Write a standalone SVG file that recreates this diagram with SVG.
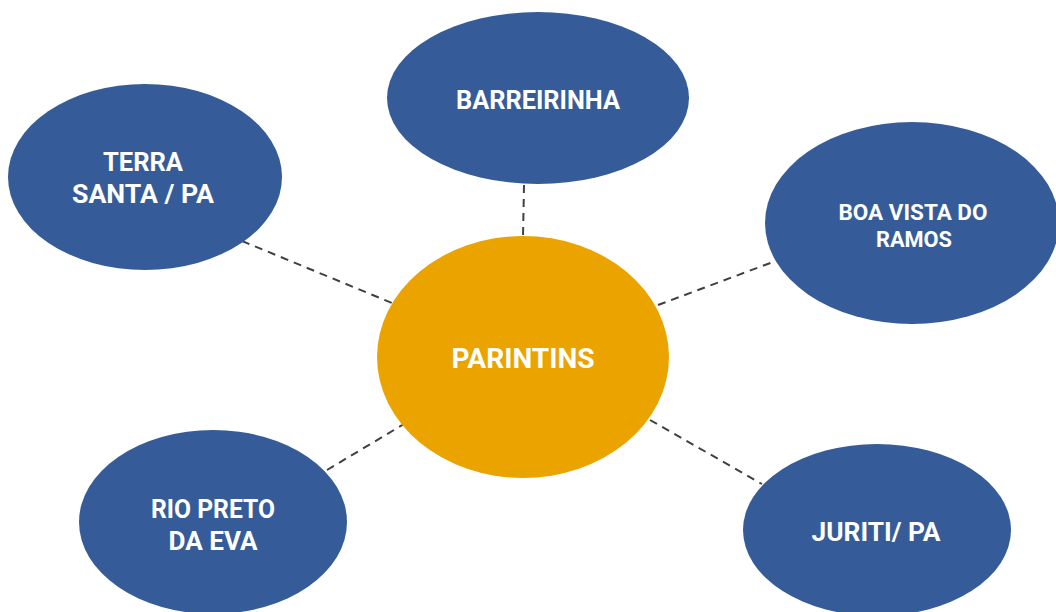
<svg xmlns="http://www.w3.org/2000/svg" width="1056" height="612" viewBox="0 0 1056 612">
<style>
.sat{fill:#355C99}
.hub{fill:#EBA300}
.lbl{font-family:Roboto,"Liberation Sans",sans-serif;font-weight:700;fill:#FFFFFF;text-anchor:middle}
.con{stroke:#404040;stroke-width:2;stroke-dasharray:8 6;fill:none}
</style>
<rect width="1056" height="612" fill="#FFFFFF"/>
<g id="connectors">
<line class="con" x1="524" y1="185" x2="523" y2="237"/>
<line class="con" x1="242" y1="241" x2="392" y2="303"/>
<line class="con" x1="658" y1="305" x2="773" y2="262"/>
<line class="con" x1="327" y1="470" x2="404" y2="424"/>
<line class="con" x1="650" y1="420" x2="762" y2="484"/>
</g>
<g id="barreirinha">
<ellipse class="sat" cx="538" cy="98" rx="151" ry="86"/>
<text class="lbl" x="538" y="109" font-size="25" textLength="164" lengthAdjust="spacingAndGlyphs">BARREIRINHA</text>
</g>
<g id="terra-santa">
<ellipse class="sat" cx="145" cy="177" rx="137" ry="93"/>
<text class="lbl" x="143" y="171" font-size="25" textLength="80" lengthAdjust="spacingAndGlyphs">TERRA</text>
<text class="lbl" x="143" y="203" font-size="25" textLength="142" lengthAdjust="spacingAndGlyphs">SANTA / PA</text>
</g>
<g id="boa-vista">
<ellipse class="sat" cx="912" cy="223" rx="147" ry="101"/>
<text class="lbl" x="913" y="220" font-size="22" textLength="149" lengthAdjust="spacingAndGlyphs">BOA VISTA DO</text>
<text class="lbl" x="914" y="247" font-size="22" textLength="76" lengthAdjust="spacingAndGlyphs">RAMOS</text>
</g>
<g id="parintins">
<ellipse class="hub" cx="523" cy="357" rx="146" ry="121"/>
<text class="lbl" x="523" y="368" font-size="27" textLength="143" lengthAdjust="spacingAndGlyphs">PARINTINS</text>
</g>
<g id="rio-preto">
<ellipse class="sat" cx="213" cy="522" rx="134" ry="92"/>
<text class="lbl" x="213" y="518" font-size="25" textLength="124" lengthAdjust="spacingAndGlyphs">RIO PRETO</text>
<text class="lbl" x="213" y="550" font-size="25" textLength="89" lengthAdjust="spacingAndGlyphs">DA EVA</text>
</g>
<g id="juriti">
<ellipse class="sat" cx="877" cy="530" rx="134" ry="86"/>
<text class="lbl" x="876" y="541" font-size="25" textLength="129" lengthAdjust="spacingAndGlyphs">JURITI/ PA</text>
</g>
</svg>
